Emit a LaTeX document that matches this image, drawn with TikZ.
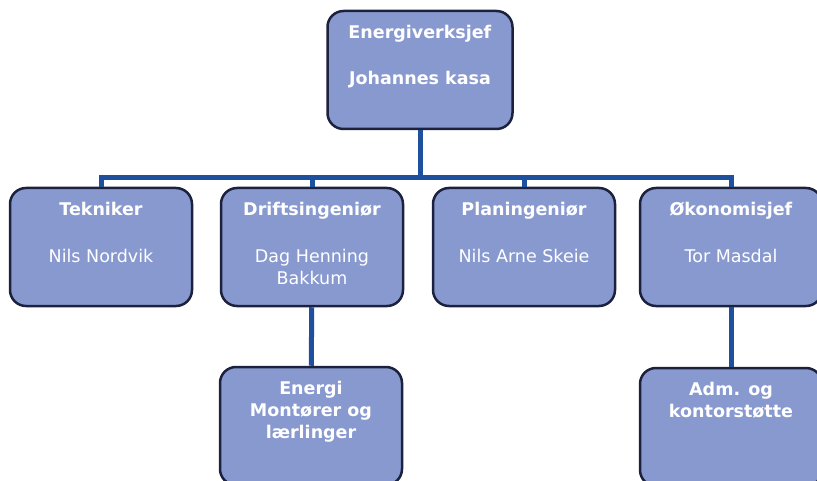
\documentclass[tikz,border=0pt]{standalone}
\usepackage{fontspec}
\setmainfont{DejaVu Sans}
\usetikzlibrary{positioning}
\definecolor{boxfill}{RGB}{136,153,208}
\definecolor{boxline}{RGB}{28,34,62}
\definecolor{linkblue}{RGB}{30,80,158}
\newcommand{\unittext}[1]{\parbox[t][90pt][t]{178pt}{\centering #1}}
\begin{document}
\begin{tikzpicture}[x=1pt, y=-1pt,
    unit/.style={rectangle, draw=boxline, line width=2.5pt, fill=boxfill, rounded corners=16pt,
        minimum width=182pt, minimum height=118pt, inner xsep=2pt, inner ysep=14pt,
        text=white, font=\fontsize{17.5}{22}\selectfont},
    link/.style={draw=linkblue, line width=5pt}]
            \useasboundingbox (0,0) rectangle (817,481);

            \node (chief) [unit, minimum width=185pt] at (420,70) {\unittext{\textbf{Energiverksjef}\\[24pt]\textbf{Johannes kasa}}};
            \node (tech) [unit] at (101,247) {\unittext{\textbf{Tekniker}\\[25pt]Nils Nordvik}};
            \node (ops) [unit] at (312,247) {\unittext{\textbf{Driftsingeniør}\\[25pt]Dag Henning\\Bakkum}};
            \node (plan) [unit] at (524,247) {\unittext{\textbf{Planingeniør}\\[25pt]Nils Arne Skeie}};
            \node (econ) [unit, minimum width=172pt] at (731,247) {\unittext{\textbf{Økonomisjef}\\[25pt]Tor Masdal}};
            \node (crew) [unit] at (311,426) {\unittext{\textbf{Energi}\\\textbf{Montører og}\\\textbf{lærlinger}}};
            \node (admin) [unit, minimum width=172pt] at (731,427) {\unittext{\textbf{Adm. og}\\\textbf{kontorstøtte}}};

            \coordinate (bar) at (420,178);

            \draw [link] (chief) -- (bar);
            \draw [link] (bar) -| (tech);
            \draw [link] (bar) -| (ops);
            \draw [link] (bar) -| (plan);
            \draw [link] (bar) -| (econ);
            \draw [link] (ops) -- (crew);
            \draw [link] (econ) -- (admin);
\end{tikzpicture}
\end{document}
